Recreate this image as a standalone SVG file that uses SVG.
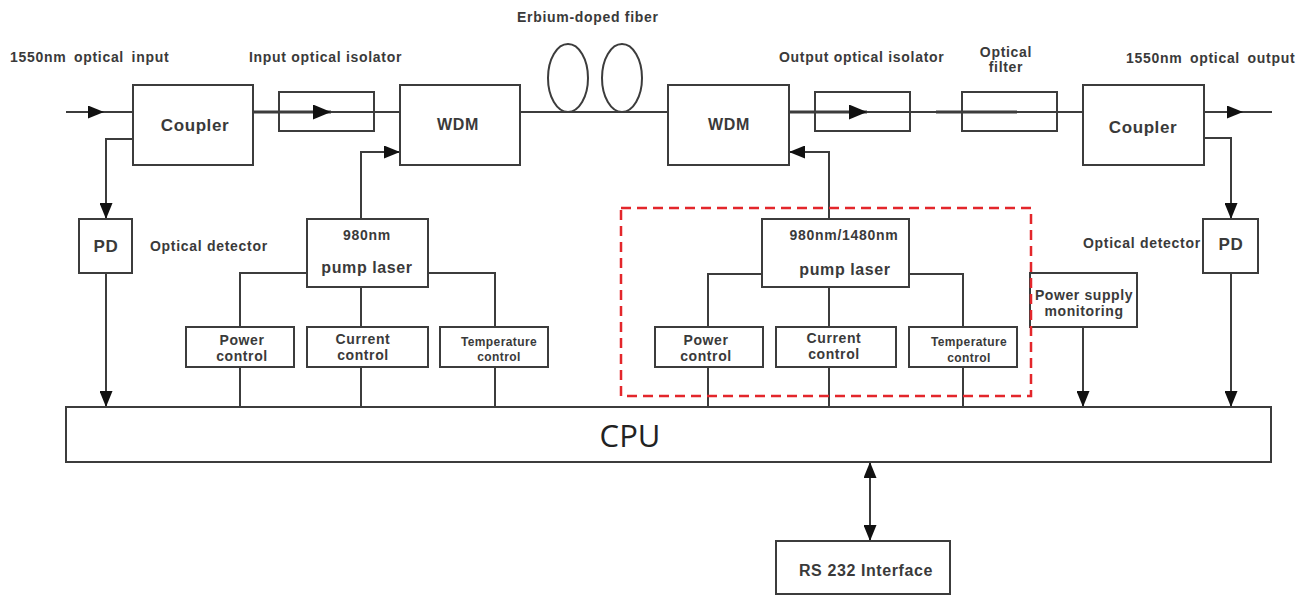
<svg xmlns="http://www.w3.org/2000/svg" width="1306" height="595" viewBox="0 0 1306 595">
<style>
.ln{stroke:#3c3c3c;stroke-width:2;fill:none}
.thk{stroke:#3c3c3c;stroke-width:3.2;fill:none}
.box{fill:#fff;stroke:#3c3c3c;stroke-width:2}
.t{font-family:"Liberation Sans",Arial,sans-serif;font-weight:bold;fill:#3a3a3a;font-size:14px;letter-spacing:0.7px}
.m{text-anchor:middle}
.lg{font-size:17px;letter-spacing:0.6px}
.md{font-size:16px;letter-spacing:0.6px}
.sm{font-size:14px;letter-spacing:0.6px}
.xs{font-size:12px;letter-spacing:0.4px}
.ws{word-spacing:3px}
</style>
<defs>
<marker id="ah" markerUnits="userSpaceOnUse" markerWidth="17" markerHeight="13" refX="16" refY="6.5" orient="auto">
<path d="M0,0 L16,6.5 L0,13 z" fill="#111"/>
</marker>
<marker id="ahs" markerUnits="userSpaceOnUse" markerWidth="17" markerHeight="13" refX="16" refY="6.5" orient="auto-start-reverse">
<path d="M0,0 L16,6.5 L0,13 z" fill="#111"/>
</marker>
<marker id="ahL" markerUnits="userSpaceOnUse" markerWidth="19" markerHeight="15" refX="18" refY="7.5" orient="auto">
<path d="M0,0 L18,7.5 L0,15 z" fill="#111"/>
</marker>
</defs>

<g id="labels">
<text class="t ws" x="10" y="62">1550nm optical input</text>
<text class="t" x="249" y="62">Input optical isolator</text>
<text class="t" x="517" y="22">Erbium-doped fiber</text>
<text class="t" x="779" y="62">Output optical isolator</text>
<text class="t m" x="1006" y="57">Optical</text>
<text class="t m" x="1006" y="72">filter</text>
<text class="t ws" x="1126" y="63">1550nm optical output</text>
<text class="t" x="150" y="251">Optical detector</text>
<text class="t" x="1083" y="248">Optical detector</text>
</g>

<g id="connectors">
<line class="ln" x1="66" y1="112" x2="104" y2="112" marker-end="url(#ah)"/>
<line class="ln" x1="104" y1="112" x2="133" y2="112"/>
<line class="thk" x1="253" y1="112" x2="331" y2="112" marker-end="url(#ahL)"/>
<line class="ln" x1="331" y1="112" x2="400" y2="112"/>
<path class="ln" d="M133,139 H106 V219" marker-end="url(#ah)"/>
<path class="ln" d="M106,273 V407" marker-end="url(#ah)"/>
<line class="ln" x1="520" y1="112" x2="668" y2="112"/>
<ellipse class="ln" cx="568" cy="78" rx="20" ry="34"/>
<ellipse class="ln" cx="622" cy="78" rx="20" ry="34"/>
<line class="thk" x1="789" y1="112" x2="867" y2="112" marker-end="url(#ahL)"/>
<line class="ln" x1="867" y1="112" x2="936" y2="112"/>
<line class="thk" x1="936" y1="112" x2="1017" y2="112"/>
<line class="ln" x1="1017" y1="112" x2="1083" y2="112"/>
<line class="ln" x1="1204" y1="112" x2="1243" y2="112" marker-end="url(#ah)"/>
<line class="ln" x1="1243" y1="112" x2="1272" y2="112"/>
<path class="ln" d="M1204,138 H1231 V219" marker-end="url(#ah)"/>
<path class="ln" d="M1231,273 V407" marker-end="url(#ah)"/>
<path class="ln" d="M1083,327 V407" marker-end="url(#ah)"/>
<path class="ln" d="M361,219 V152 H400" marker-end="url(#ah)"/>
<path class="ln" d="M829,219 V152 H789" marker-end="url(#ah)"/>
<path class="ln" d="M307,273 H240 V327 M428,273 H495 V327 M361,287 V327"/>
<path class="ln" d="M240,367 V407 M361,367 V407 M495,367 V407"/>
<path class="ln" d="M762,274 H708 V327 M909,274 H963 V327 M829,287 V327"/>
<path class="ln" d="M708,367 V407 M829,367 V407 M963,367 V407"/>
<path class="ln" d="M870,462 V541" marker-start="url(#ahs)" marker-end="url(#ahs)"/>
</g>

<g id="input-isolator"><rect class="box" x="279" y="92" width="95" height="39" fill="none" style="fill:none"/></g>
<g id="output-isolator"><rect class="box" x="815" y="92" width="95" height="39" style="fill:none"/></g>
<g id="optical-filter"><rect class="box" x="962" y="92" width="95" height="39" style="fill:none"/></g>

<g id="coupler-in"><rect class="box" x="133" y="85" width="120" height="80"/><text class="t m lg" x="195" y="131">Coupler</text></g>
<g id="wdm1"><rect class="box" x="400" y="85" width="120" height="80"/><text class="t m md" x="458" y="130">WDM</text></g>
<g id="wdm2"><rect class="box" x="668" y="85" width="121" height="80"/><text class="t m md" x="729" y="130">WDM</text></g>
<g id="coupler-out"><rect class="box" x="1083" y="85" width="121" height="80"/><text class="t m lg" x="1143" y="133">Coupler</text></g>

<g id="pd1"><rect class="box" x="79" y="219" width="53" height="54"/><text class="t m lg" x="106" y="252">PD</text></g>
<g id="pd2"><rect class="box" x="1203" y="219" width="55" height="54"/><text class="t m lg" x="1231" y="250">PD</text></g>

<g id="pump1"><rect class="box" x="307" y="219" width="121" height="68"/><text class="t m" x="367" y="240">980nm</text><text class="t m md" x="367" y="273">pump laser</text></g>
<g id="power1"><rect class="box" x="186" y="327" width="108" height="40"/><text class="t m sm" x="242" y="345">Power</text><text class="t m sm" x="242" y="361">control</text></g>
<g id="current1"><rect class="box" x="307" y="327" width="121" height="40"/><text class="t m sm" x="363" y="344">Current</text><text class="t m sm" x="363" y="360">control</text></g>
<g id="temp1"><rect class="box" x="440" y="327" width="108" height="40"/><text class="t m xs" x="499" y="346">Temperature</text><text class="t m xs" x="499" y="361">control</text></g>

<g id="pump2"><rect class="box" x="762" y="219" width="147" height="68"/><text class="t m" x="844" y="240">980nm/1480nm</text><text class="t m md" x="845" y="275">pump laser</text></g>
<g id="power2"><rect class="box" x="655" y="327" width="108" height="40"/><text class="t m sm" x="706" y="345">Power</text><text class="t m sm" x="706" y="361">control</text></g>
<g id="current2"><rect class="box" x="776" y="327" width="120" height="40"/><text class="t m sm" x="834" y="343">Current</text><text class="t m sm" x="834" y="359">control</text></g>
<g id="temp2"><rect class="box" x="909" y="327" width="108" height="40"/><text class="t m xs" x="969" y="346">Temperature</text><text class="t m xs" x="969" y="362">control</text></g>

<g id="psm"><rect class="box" x="1030" y="273" width="107" height="54"/><text class="t m sm" x="1084" y="300">Power supply</text><text class="t m sm" x="1084" y="316">monitoring</text></g>

<g id="cpu"><rect class="box" x="66" y="407" width="1205" height="55"/><text x="630" y="447" text-anchor="middle" style="font-family:'Open Sans','Liberation Sans',sans-serif;font-size:31px;fill:#222">CPU</text></g>
<g id="rs232"><rect class="box" x="776" y="541" width="174" height="53"/><text class="t m md" x="866" y="576">RS 232 Interface</text></g>

<g id="highlight"><rect x="621" y="208" width="410" height="188" fill="none" stroke="#e3262b" stroke-width="2.5" stroke-dasharray="10 6"/></g>
</svg>
